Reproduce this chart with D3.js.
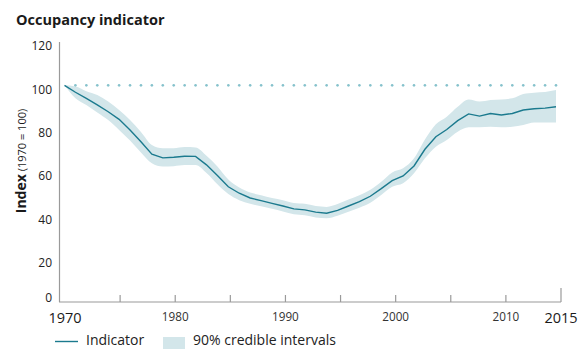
<!DOCTYPE html>
<html>
<head>
<meta charset="utf-8">
<script src="https://cdn.jsdelivr.net/npm/d3@7"></script>
<style>
  html, body { margin: 0; padding: 0; background: #fff; }
  svg { display: block; font-family: "Open Sans", "Noto Sans", sans-serif; }
</style>
</head>
<body>
<svg id="chart" width="579" height="349"></svg>
<script>
const years = d3.range(1970, 2016);
const indicator = [100, 96.8, 94.0, 91.0, 87.8, 84.3, 79.4, 74.0, 68.2, 66.5,
  66.8, 67.3, 67.2, 63.3, 58.4, 53.2, 50.2, 48.0, 46.8, 45.5,
  44.3, 43.0, 42.5, 41.5, 41.0, 42.3, 44.3, 46.3, 48.8, 52.3,
  56.0, 58.2, 62.8, 70.5, 76.3, 79.6, 83.7, 86.8, 85.8, 87.0,
  86.3, 87.0, 88.6, 89.2, 89.5, 90.1];
const upper = [100, 99.5, 97.3, 95.5, 92.5, 88.6, 84.0, 78.5, 72.5, 71.0,
  71.0, 71.5, 71.3, 67.5, 62.5, 56.5, 52.8, 50.5, 49.3, 48.0,
  47.0, 45.7, 45.3, 44.3, 43.9, 45.2, 47.3, 49.3, 51.8, 55.5,
  59.8, 61.7, 66.3, 75.0, 82.0, 85.5, 90.1, 93.5, 92.5, 93.2,
  93.5, 94.0, 96.0, 96.6, 96.9, 97.8];
const lower = [100, 94.0, 90.9, 87.5, 84.0, 79.4, 74.5, 69.0, 64.0, 62.5,
  62.7, 63.2, 63.2, 59.5, 54.3, 49.8, 47.0, 45.3, 44.2, 43.0,
  41.8, 40.5, 40.0, 39.0, 38.6, 39.8, 41.6, 43.5, 45.8, 49.4,
  53.2, 54.8, 59.4, 66.3, 71.7, 74.8, 78.6, 80.6, 80.6, 80.9,
  80.6, 80.9, 81.7, 82.8, 82.8, 82.8];
const yTicks = [0, 20, 40, 60, 80, 100, 120];
const xTicks = [1970, 1975, 1980, 1985, 1990, 1995, 2000, 2005, 2010, 2015];
const xLabels = [1970, 1980, 1990, 2000, 2010, 2015];
const baseline = 100;

const data = years.map((yr, i) => ({ year: yr, v: indicator[i], hi: upper[i], lo: lower[i] }));

const svg = d3.select("#chart");
const axisY0 = 302;
const y = d3.scaleLinear().domain([0, 120]).range([axisY0, 42]);
const xAxisScale = d3.scaleLinear().domain([1970, 2015]).range([65, 561]);
const xData = d3.scaleLinear().domain([1970, 2015]).range([64.5, 556]);

// title
svg.append("text").attr("x", 16).attr("y", 25)
  .attr("font-size", 14.5).attr("font-weight", 700).attr("fill", "#1a1a1a")
  .text("Occupancy indicator");

// band
svg.append("path").datum(data)
  .attr("fill", "#d3e6ea")
  .attr("d", d3.area().x(d => xData(d.year)).y0(d => y(d.lo)).y1(d => y(d.hi)).curve(d3.curveMonotoneX));

// dotted 100 line
svg.append("g").selectAll("circle").data(years.slice(1)).join("circle")
  .attr("cx", d => xData(d)).attr("cy", y(baseline)).attr("r", 1.3)
  .attr("fill", "#86c2cc");

// indicator line
svg.append("path").datum(data)
  .attr("fill", "none").attr("stroke", "#1b7a8e").attr("stroke-width", 1.4)
  .attr("d", d3.line().x(d => xData(d.year)).y(d => y(d.v)));

// y axis
svg.append("line").attr("x1", 59.5).attr("x2", 59.5).attr("y1", y(120)).attr("y2", axisY0)
  .attr("stroke", "#9a9a9a").attr("stroke-width", 1.2);
svg.append("g").selectAll("text").data(yTicks).join("text")
  .attr("x", 52).attr("y", d => d === 0 ? y(d) - 4.5 + 4.3 : y(d) + 4 + 4.3)
  .attr("text-anchor", "end").attr("font-size", 12).attr("fill", "#222")
  .text(d => d);

// y title
const yt = svg.append("text").attr("transform", "translate(26,161) rotate(-90)")
  .attr("text-anchor", "middle").attr("fill", "#1a1a1a");
yt.append("tspan").attr("font-size", 14).attr("font-weight", 700).text("Index");
yt.append("tspan").attr("font-size", 11).text(" (1970 = 100)");

// x axis
svg.append("line").attr("x1", 59).attr("x2", xAxisScale(2015)).attr("y1", axisY0).attr("y2", axisY0)
  .attr("stroke", "#9a9a9a").attr("stroke-width", 1.2);
svg.append("g").selectAll("line").data(xTicks.filter(d => d !== 1970)).join("line")
  .attr("x1", d => xAxisScale(d)).attr("x2", d => xAxisScale(d))
  .attr("y1", axisY0).attr("y2", d => d === 2015 ? axisY0 - 14 : axisY0 - 7)
  .attr("stroke", "#9a9a9a").attr("stroke-width", 1.2);
svg.append("g").selectAll("text").data(xLabels).join("text")
  .attr("x", d => xAxisScale(d))
  .attr("y", d => (d === 1970 || d === 2015) ? 323 : 320.5)
  .attr("text-anchor", "middle")
  .attr("font-size", d => (d === 1970 || d === 2015) ? 14.5 : 11.7)
  .attr("fill", d => (d === 1970 || d === 2015) ? "#1a1a1a" : "#333")
  .text(d => d);

// legend
svg.append("line").attr("x1", 55).attr("x2", 78).attr("y1", 341.5).attr("y2", 341.5)
  .attr("stroke", "#1b7a8e").attr("stroke-width", 1.4);
svg.append("text").attr("x", 86).attr("y", 345).attr("font-size", 14).attr("fill", "#222").text("Indicator");
svg.append("rect").attr("x", 163).attr("y", 337).attr("width", 22).attr("height", 12).attr("fill", "#d3e6ea");
svg.append("text").attr("x", 193).attr("y", 345).attr("font-size", 14).attr("fill", "#222").text("90% credible intervals");
</script>
</body>
</html>
